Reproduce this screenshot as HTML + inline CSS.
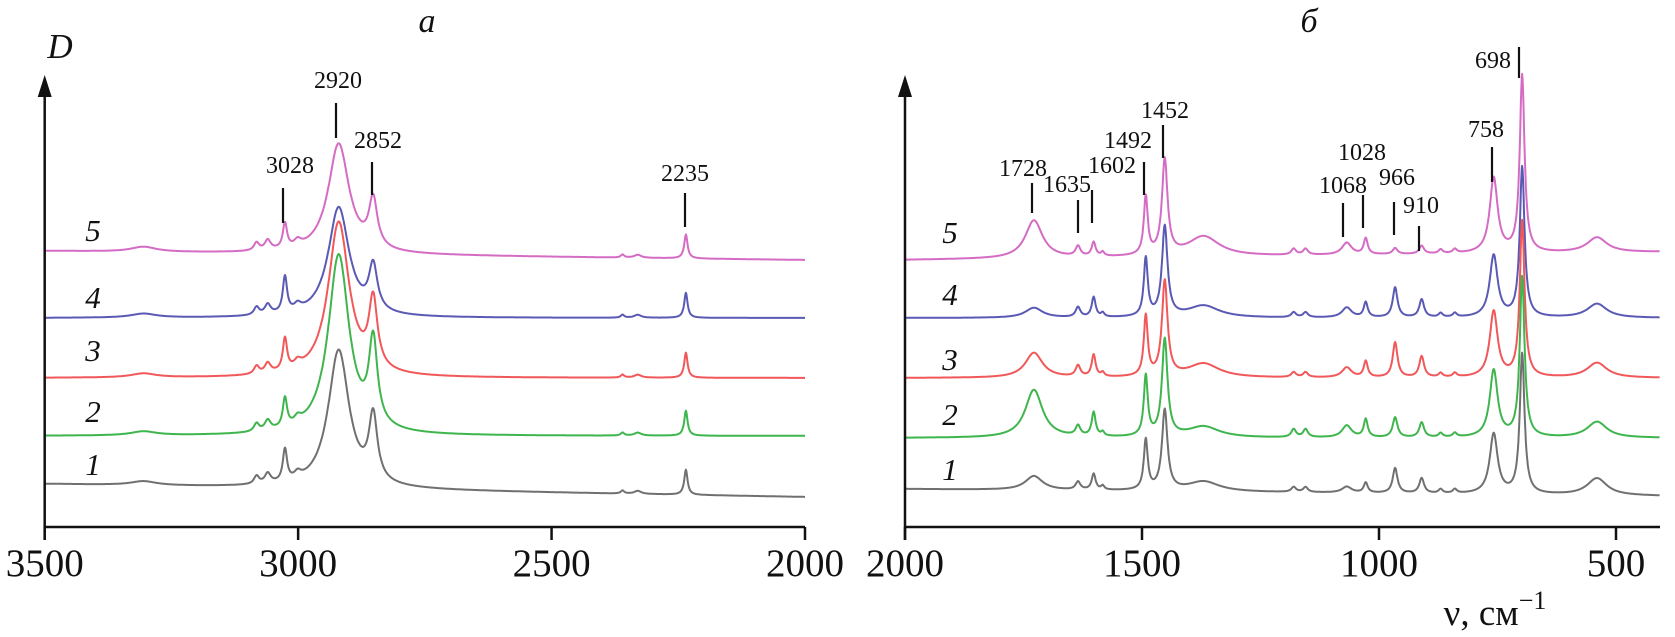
<!DOCTYPE html>
<html><head><meta charset="utf-8"><style>
html,body{margin:0;padding:0;background:#fff;}
svg{display:block;font-family:"Liberation Serif","DejaVu Serif",serif;}
</style></head><body>
<svg id="chart" width="1675" height="637" viewBox="0 0 1675 637"></svg>
<script>
// ---- data: left panel (3500-2000 cm-1) ----
const leftPeakPos = [3305, 3082, 3060, 3026, 3001, 2920, 2852, 2360, 2330, 2235];
const leftPeakHwhm = [30, 6, 7, 5, 8, 25, 10, 4, 8, 4];
const leftH5 = [0.05, 0.08, 0.10, 0.25, 0.06, 1.10, 0.48, 0.03, 0.03, 0.24];
const leftH4 = [0.04, 0.08, 0.10, 0.36, 0.06, 1.10, 0.45, 0.03, 0.03, 0.25];
const leftH3 = [0.04, 0.08, 0.10, 0.32, 0.06, 1.55, 0.68, 0.03, 0.03, 0.25];
const leftH2 = [0.04, 0.08, 0.10, 0.29, 0.06, 1.80, 0.84, 0.03, 0.03, 0.25];
const leftH1 = [0.04, 0.08, 0.10, 0.32, 0.06, 1.38, 0.65, 0.03, 0.03, 0.25];
const leftBaseStart = [2.76, 2.09, 1.49, 0.91, 0.43];
const leftBaseEnd = [2.67, 2.09, 1.49, 0.91, 0.30];
const leftTicks = [3500, 3000, 2500, 2000];

// ---- data: right panel (2000-400 cm-1) ----
const rightPeakPos = [1728, 1635, 1602, 1583, 1492, 1452, 1370, 1180, 1155, 1068, 1028, 966, 910, 870, 840, 758, 698, 540];
const rightPeakHwhm = [22, 6, 5, 4, 5, 7, 40, 6, 6, 12, 5, 6, 6, 5, 5, 10, 6, 25];
const rightH5 = [0.38, 0.10, 0.14, 0.04, 0.58, 0.95, 0.20, 0.06, 0.06, 0.12, 0.16, 0.06, 0.08, 0.04, 0.04, 0.75, 1.77, 0.15];
const rightH4 = [0.10, 0.10, 0.20, 0.04, 0.58, 0.90, 0.12, 0.05, 0.05, 0.10, 0.15, 0.30, 0.18, 0.04, 0.04, 0.62, 1.50, 0.14];
const rightH3 = [0.25, 0.11, 0.22, 0.04, 0.60, 0.95, 0.14, 0.05, 0.05, 0.10, 0.16, 0.35, 0.21, 0.04, 0.04, 0.66, 1.56, 0.15];
const rightH2 = [0.48, 0.10, 0.24, 0.04, 0.60, 0.97, 0.11, 0.08, 0.08, 0.12, 0.18, 0.20, 0.15, 0.04, 0.04, 0.67, 1.60, 0.16];
const rightH1 = [0.14, 0.08, 0.16, 0.04, 0.50, 0.80, 0.10, 0.05, 0.05, 0.06, 0.10, 0.25, 0.15, 0.04, 0.04, 0.60, 1.40, 0.17];
const rightBaseStart = [2.67, 2.09, 1.49, 0.89, 0.38];
const rightBaseEnd = [2.75, 2.09, 1.49, 0.89, 0.31];
const rightTicks = [2000, 1500, 1000, 500];

const seriesNames = ['5', '4', '3', '2', '1'];
const seriesColors = ['#d46cc4', '#5a5ab4', '#f0585a', '#3fb54e', '#707070'];

const NS = 'http://www.w3.org/2000/svg';
const svg = document.getElementById('chart');
const AXIS_Y = 527, PX_PER_D = 100;
function yD(d){ return AXIS_Y - d * PX_PER_D; }
function mk(tag, attrs, parent){
  const e = document.createElementNS(NS, tag);
  for (const k in attrs) e.setAttribute(k, attrs[k]);
  (parent || svg).appendChild(e);
  return e;
}
function txt(s, x, y, size, style, parent, anchor){
  const t = mk('text', {x:x, y:y, 'font-size':size, 'font-style':style||'normal', 'text-anchor':anchor||'middle', fill:'#111'}, parent);
  t.textContent = s;
  return t;
}

const panels = [
  {name:'left', x0:44.7, w0:3500, w1:2000, xEnd:805, scale:(805-44.7)/1500, pos:leftPeakPos, hw:leftPeakHwhm,
   heights:[leftH5,leftH4,leftH3,leftH2,leftH1], bs:leftBaseStart, be:leftBaseEnd, ticks:leftTicks,
   labelX:93, labelY:[241,308,361,422,475], title:'a', titleX:427},
  {name:'right', x0:905, w0:2000, w1:2000-(1660-905)/0.474, xEnd:1660, scale:0.474, pos:rightPeakPos, hw:rightPeakHwhm,
   heights:[rightH5,rightH4,rightH3,rightH2,rightH1], bs:rightBaseStart, be:rightBaseEnd, ticks:rightTicks,
   labelX:950, labelY:[243,305,370,425,480], title:'б', titleX:1309}
];

panels.forEach(function(p){
  const g = mk('g', {});
  
  
  const xOf = function(w){ return p.x0 + (p.w0 - w) * p.scale; };

  p.heights.forEach(function(H, si){
    let d = '';
    for (let w = p.w0; w >= p.w1; w -= 1) {
      const frac = (p.w0 - w) / (p.w0 - p.w1);
      let v = p.bs[si] + (p.be[si] - p.bs[si]) * frac;
      for (let k = 0; k < p.pos.length; k++) {
        const u = (w - p.pos[k]) / p.hw[k];
        v += H[k] / (1 + u * u);
      }
      d += (d ? 'L' : 'M') + xOf(w).toFixed(1) + ',' + yD(v).toFixed(1);
    }
    const path = mk('path', {d:d, fill:'none', stroke:seriesColors[si], 'stroke-width':2, 'stroke-linejoin':'round'}, g);
    
    
    const lab = txt(seriesNames[si], p.labelX, p.labelY[si], 31, 'italic', g);
    
    
  });

  const xa = mk('line', {x1:p.x0, y1:AXIS_Y, x2:p.xEnd, y2:AXIS_Y, stroke:'#111', 'stroke-width':2.5}, g);
  
  
  const ya = mk('line', {x1:p.x0, y1:AXIS_Y + 13, x2:p.x0, y2:92, stroke:'#111', 'stroke-width':2.5}, g);
  
  
  const ar = mk('path', {d:'M' + p.x0 + ',75 L' + (p.x0 - 7) + ',97 L' + (p.x0 + 7) + ',97 Z', fill:'#111'}, g);
  
  
  p.ticks.forEach(function(t){
    const x = xOf(t);
    const tk = mk('line', {x1:x, y1:AXIS_Y, x2:x, y2:AXIS_Y + 13, stroke:'#111', 'stroke-width':2.5}, g);
    
    
    const tl = txt(String(t), x, 576, 39, 'normal', g);
    
    
  });
  const tt = txt(p.title, p.titleX, 32, 34, 'italic', g);
  
  
});

// peak annotations: [wavenumber, labelX, labelBaselineY, tickX, tickTop, tickBottom]
const peakAnn = [
  [3028, 290, 173, 283, 188, 223], [2920, 338, 88, 336, 103, 138], [2852, 378, 148, 372, 162, 195], [2235, 685, 181, 685, 193, 227],
  [1728, 1023, 176, 1032, 183, 213], [1635, 1067, 192, 1078, 200, 233], [1602, 1112, 173, 1092, 190, 223],
  [1492, 1128, 148, 1144, 162, 195], [1452, 1165, 118, 1163, 125, 158], [1068, 1343, 193, 1343, 203, 237],
  [1028, 1362, 160, 1363, 195, 228], [966, 1397, 185, 1394, 202, 235], [910, 1421, 213, 1419, 226, 251],
  [758, 1486, 137, 1492, 147, 182], [698, 1493, 68, 1519, 47, 78]
];
const ag = mk('g', {});


peakAnn.forEach(function(a){
  const t = txt(String(a[0]), a[1], a[2], 24, 'normal', ag);
  
  
  const l = mk('line', {x1:a[3], y1:a[4], x2:a[3], y2:a[5], stroke:'#111', 'stroke-width':2.2}, ag);
  
  
});

const dl = txt('D', 60, 58, 35, 'italic', svg);


const xt = mk('text', {x:1495, y:625, 'font-size':37, 'text-anchor':'middle', fill:'#111'});


xt.textContent = 'ν, см';
const sup = mk('tspan', {dy:-16, 'font-size':26}, xt);
sup.textContent = '−1';
</script>
</body></html>
